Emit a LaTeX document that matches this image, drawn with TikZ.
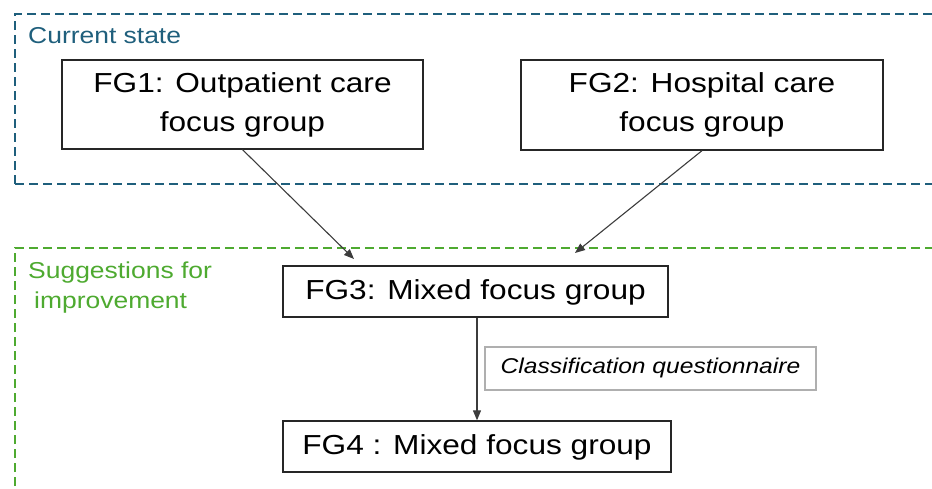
\documentclass[tikz,border=0pt]{standalone}
\usepackage{fontspec}
\setmainfont{Liberation Sans}[FakeStretch=1.15]
\usepackage{tikz}
\usetikzlibrary{arrows.meta,positioning,calc}
\definecolor{stateblue}{RGB}{31,95,124}
\definecolor{sugggreen}{RGB}{78,170,48}
\definecolor{linegray}{RGB}{60,60,60}
\definecolor{notegray}{RGB}{175,175,175}

\begin{document}
\begin{tikzpicture}[
  x=1pt,y=-1pt,
  fg/.style={draw=black!85,line width=1.3pt,align=center,inner sep=0pt,font=\fontsize{27.5}{39}\selectfont},
  note/.style={draw=notegray,line width=1.2pt,inner sep=0pt,font=\fontsize{21.4}{26}\selectfont\itshape},
  zone/.style={dashed,line width=2pt,dash pattern=on 9pt off 5pt},
  zonelbl/.style={anchor=west,align=left,inner sep=0pt,font=\fontsize{23}{30}\selectfont},
  >={Triangle[length=10pt,width=8pt]},
  arr/.style={->,draw=linegray,line width=1.1pt}
]
\useasboundingbox (0,0) rectangle (932,489);
% zones
\draw[zone,draw=stateblue] (15,184) -- (15,14) -- (945,14);
\draw[zone,draw=stateblue] (15,184) -- (945,184);
\draw[zone,draw=sugggreen] (15,500) -- (15,248) -- (945,248);
\node[zonelbl,text=stateblue] (cur) at (28,36) {Current state};
\node[zonelbl,text=sugggreen] (sug) at (28,288) {Suggestions for\\\hspace{6pt}improvement};
% focus groups
\node[fg,minimum width=361pt,minimum height=89pt] (fg1) at (242.5,104.5) {FG1: Outpatient care\\focus group};
\node[fg,minimum width=362pt,minimum height=90pt] (fg2) at (702,105) {FG2: Hospital care\\focus group};
\node[fg,minimum width=385pt,minimum height=51pt] (fg3) at (475.5,291.5) {FG3: Mixed focus group\strut};
\node[fg,minimum width=388pt,minimum height=51pt] (fg4) at (477,446.5) {FG4 : Mixed focus group\strut};
\node[note,minimum width=331pt,minimum height=43pt] (cq) at (650.5,368.5) {Classification questionnaire\strut};
% arrow ends above FG3
\coordinate (in1) at (354,259);
\coordinate (in2) at (575,253);
% arrows
\draw[arr](fg1.south)--(in1);
\draw[arr](fg2.south)--(in2);
\draw[arr](fg3.south-|fg4.north)--(fg4.north);
\end{tikzpicture}
\end{document}
